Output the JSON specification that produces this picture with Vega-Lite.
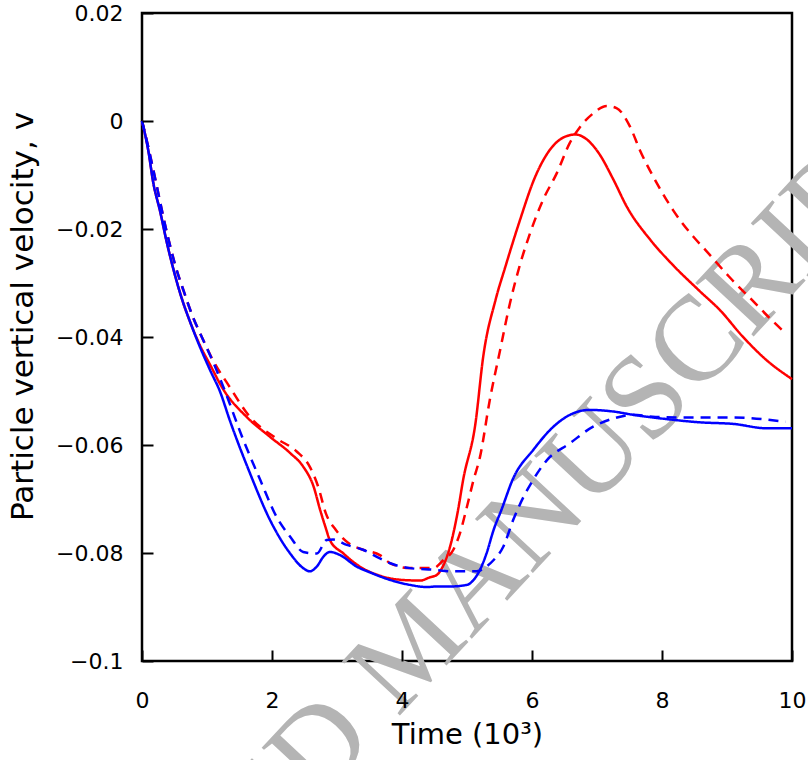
{
  "$schema": "https://vega.github.io/schema/vega-lite/v6.json",
  "autosize": {"type": "none"},
  "padding": {"left": 142, "top": 13, "right": 16, "bottom": 99},
  "width": 650,
  "height": 648,
  "background": "white",
  "config": {
    "view": {"stroke": "black", "strokeWidth": 2.5},
    "font": "DejaVu Sans",
    "axis": {
      "grid": false,
      "labelFlush": false,
      "labelOverlap": false,
      "labelColor": "black",
      "labelFont": "DejaVu Sans",
      "labelFontSize": 22,
      "titleFont": "DejaVu Sans",
      "titleFontWeight": "normal",
      "titleColor": "black"
    }
  },
  "datasets": {
    "curves": [
      {"series": "red solid", "t": 0, "v": 0},
      {"series": "red solid", "t": 0.1, "v": -0.0057},
      {"series": "red solid", "t": 0.17, "v": -0.0112},
      {"series": "red solid", "t": 0.28, "v": -0.0168},
      {"series": "red solid", "t": 0.38, "v": -0.0224},
      {"series": "red solid", "t": 0.48, "v": -0.0273},
      {"series": "red solid", "t": 0.61, "v": -0.0328},
      {"series": "red solid", "t": 0.74, "v": -0.0372},
      {"series": "red solid", "t": 0.89, "v": -0.0415},
      {"series": "red solid", "t": 1.05, "v": -0.0452},
      {"series": "red solid", "t": 1.25, "v": -0.0497},
      {"series": "red solid", "t": 1.61, "v": -0.0548},
      {"series": "red solid", "t": 1.97, "v": -0.0585},
      {"series": "red solid", "t": 2.28, "v": -0.0615},
      {"series": "red solid", "t": 2.48, "v": -0.064},
      {"series": "red solid", "t": 2.64, "v": -0.0677},
      {"series": "red solid", "t": 2.74, "v": -0.072},
      {"series": "red solid", "t": 2.82, "v": -0.0751},
      {"series": "red solid", "t": 2.89, "v": -0.0776},
      {"series": "red solid", "t": 3.1, "v": -0.0801},
      {"series": "red solid", "t": 3.35, "v": -0.0825},
      {"series": "red solid", "t": 3.66, "v": -0.0842},
      {"series": "red solid", "t": 4.02, "v": -0.085},
      {"series": "red solid", "t": 4.28, "v": -0.0851},
      {"series": "red solid", "t": 4.43, "v": -0.0845},
      {"series": "red solid", "t": 4.53, "v": -0.0841},
      {"series": "red solid", "t": 4.64, "v": -0.0822},
      {"series": "red solid", "t": 4.74, "v": -0.0788},
      {"series": "red solid", "t": 4.86, "v": -0.0722},
      {"series": "red solid", "t": 4.94, "v": -0.0665},
      {"series": "red solid", "t": 5.13, "v": -0.056},
      {"series": "red solid", "t": 5.25, "v": -0.0436},
      {"series": "red solid", "t": 5.44, "v": -0.0331},
      {"series": "red solid", "t": 5.59, "v": -0.027},
      {"series": "red solid", "t": 5.8, "v": -0.0189},
      {"series": "red solid", "t": 6.05, "v": -0.0103},
      {"series": "red solid", "t": 6.31, "v": -0.0048},
      {"series": "red solid", "t": 6.51, "v": -0.0029},
      {"series": "red solid", "t": 6.67, "v": -0.0025},
      {"series": "red solid", "t": 6.82, "v": -0.0032},
      {"series": "red solid", "t": 7.03, "v": -0.006},
      {"series": "red solid", "t": 7.25, "v": -0.0108},
      {"series": "red solid", "t": 7.46, "v": -0.0159},
      {"series": "red solid", "t": 7.82, "v": -0.022},
      {"series": "red solid", "t": 8.17, "v": -0.0267},
      {"series": "red solid", "t": 8.58, "v": -0.0315},
      {"series": "red solid", "t": 8.89, "v": -0.035},
      {"series": "red solid", "t": 9.24, "v": -0.0399},
      {"series": "red solid", "t": 9.61, "v": -0.0443},
      {"series": "red solid", "t": 10, "v": -0.0478},

      {"series": "red dashed", "t": 0, "v": 0},
      {"series": "red dashed", "t": 0.1, "v": -0.005},
      {"series": "red dashed", "t": 0.2, "v": -0.0105},
      {"series": "red dashed", "t": 0.37, "v": -0.02},
      {"series": "red dashed", "t": 0.5, "v": -0.0262},
      {"series": "red dashed", "t": 0.65, "v": -0.0318},
      {"series": "red dashed", "t": 0.78, "v": -0.0362},
      {"series": "red dashed", "t": 0.92, "v": -0.04},
      {"series": "red dashed", "t": 1.1, "v": -0.0445},
      {"series": "red dashed", "t": 1.33, "v": -0.0489},
      {"series": "red dashed", "t": 1.66, "v": -0.0548},
      {"series": "red dashed", "t": 2.07, "v": -0.0588},
      {"series": "red dashed", "t": 2.38, "v": -0.0612},
      {"series": "red dashed", "t": 2.58, "v": -0.064},
      {"series": "red dashed", "t": 2.71, "v": -0.0677},
      {"series": "red dashed", "t": 2.83, "v": -0.0727},
      {"series": "red dashed", "t": 2.98, "v": -0.0757},
      {"series": "red dashed", "t": 3.18, "v": -0.0782},
      {"series": "red dashed", "t": 3.4, "v": -0.0794},
      {"series": "red dashed", "t": 3.66, "v": -0.0804},
      {"series": "red dashed", "t": 3.82, "v": -0.0819},
      {"series": "red dashed", "t": 4.12, "v": -0.0828},
      {"series": "red dashed", "t": 4.48, "v": -0.0828},
      {"series": "red dashed", "t": 4.64, "v": -0.0813},
      {"series": "red dashed", "t": 4.79, "v": -0.0794},
      {"series": "red dashed", "t": 4.89, "v": -0.0764},
      {"series": "red dashed", "t": 5.0, "v": -0.0714},
      {"series": "red dashed", "t": 5.1, "v": -0.0665},
      {"series": "red dashed", "t": 5.2, "v": -0.0622},
      {"series": "red dashed", "t": 5.35, "v": -0.0517},
      {"series": "red dashed", "t": 5.51, "v": -0.0424},
      {"series": "red dashed", "t": 5.66, "v": -0.0338},
      {"series": "red dashed", "t": 5.82, "v": -0.0264},
      {"series": "red dashed", "t": 5.97, "v": -0.0208},
      {"series": "red dashed", "t": 6.17, "v": -0.0146},
      {"series": "red dashed", "t": 6.38, "v": -0.0097},
      {"series": "red dashed", "t": 6.58, "v": -0.0041},
      {"series": "red dashed", "t": 6.74, "v": -0.0011},
      {"series": "red dashed", "t": 6.94, "v": 0.0014},
      {"series": "red dashed", "t": 7.15, "v": 0.0028},
      {"series": "red dashed", "t": 7.3, "v": 0.0024},
      {"series": "red dashed", "t": 7.51, "v": -0.0011},
      {"series": "red dashed", "t": 7.66, "v": -0.0054},
      {"series": "red dashed", "t": 7.92, "v": -0.0115},
      {"series": "red dashed", "t": 8.17, "v": -0.0165},
      {"series": "red dashed", "t": 8.48, "v": -0.0214},
      {"series": "red dashed", "t": 8.67, "v": -0.0239},
      {"series": "red dashed", "t": 9.03, "v": -0.0288},
      {"series": "red dashed", "t": 9.38, "v": -0.0331},
      {"series": "red dashed", "t": 9.69, "v": -0.0369},
      {"series": "red dashed", "t": 9.9, "v": -0.0393},

      {"series": "blue solid", "t": 0, "v": 0},
      {"series": "blue solid", "t": 0.1, "v": -0.0057},
      {"series": "blue solid", "t": 0.17, "v": -0.0112},
      {"series": "blue solid", "t": 0.28, "v": -0.0168},
      {"series": "blue solid", "t": 0.38, "v": -0.0224},
      {"series": "blue solid", "t": 0.48, "v": -0.0273},
      {"series": "blue solid", "t": 0.61, "v": -0.0328},
      {"series": "blue solid", "t": 0.74, "v": -0.0372},
      {"series": "blue solid", "t": 0.89, "v": -0.0418},
      {"series": "blue solid", "t": 1.05, "v": -0.0462},
      {"series": "blue solid", "t": 1.2, "v": -0.0501},
      {"series": "blue solid", "t": 1.35, "v": -0.0554},
      {"series": "blue solid", "t": 1.66, "v": -0.0652},
      {"series": "blue solid", "t": 1.97, "v": -0.0739},
      {"series": "blue solid", "t": 2.28, "v": -0.0801},
      {"series": "blue solid", "t": 2.48, "v": -0.0828},
      {"series": "blue solid", "t": 2.58, "v": -0.0834},
      {"series": "blue solid", "t": 2.69, "v": -0.0825},
      {"series": "blue solid", "t": 2.79, "v": -0.0807},
      {"series": "blue solid", "t": 2.89, "v": -0.0798},
      {"series": "blue solid", "t": 3.05, "v": -0.0804},
      {"series": "blue solid", "t": 3.3, "v": -0.0825},
      {"series": "blue solid", "t": 3.51, "v": -0.0836},
      {"series": "blue solid", "t": 3.82, "v": -0.085},
      {"series": "blue solid", "t": 4.12, "v": -0.0859},
      {"series": "blue solid", "t": 4.38, "v": -0.0863},
      {"series": "blue solid", "t": 4.53, "v": -0.0862},
      {"series": "blue solid", "t": 4.74, "v": -0.0862},
      {"series": "blue solid", "t": 5.0, "v": -0.0859},
      {"series": "blue solid", "t": 5.1, "v": -0.085},
      {"series": "blue solid", "t": 5.2, "v": -0.0831},
      {"series": "blue solid", "t": 5.3, "v": -0.0801},
      {"series": "blue solid", "t": 5.41, "v": -0.0757},
      {"series": "blue solid", "t": 5.53, "v": -0.072},
      {"series": "blue solid", "t": 5.71, "v": -0.0662},
      {"series": "blue solid", "t": 6.02, "v": -0.0609},
      {"series": "blue solid", "t": 6.33, "v": -0.0566},
      {"series": "blue solid", "t": 6.64, "v": -0.0541},
      {"series": "blue solid", "t": 6.89, "v": -0.0535},
      {"series": "blue solid", "t": 7.25, "v": -0.0538},
      {"series": "blue solid", "t": 7.55, "v": -0.0544},
      {"series": "blue solid", "t": 8.07, "v": -0.0552},
      {"series": "blue solid", "t": 8.58, "v": -0.0558},
      {"series": "blue solid", "t": 9.1, "v": -0.0561},
      {"series": "blue solid", "t": 9.61, "v": -0.0569},
      {"series": "blue solid", "t": 10, "v": -0.0569},

      {"series": "blue dashed", "t": 0, "v": 0},
      {"series": "blue dashed", "t": 0.1, "v": -0.005},
      {"series": "blue dashed", "t": 0.2, "v": -0.0105},
      {"series": "blue dashed", "t": 0.37, "v": -0.02},
      {"series": "blue dashed", "t": 0.5, "v": -0.0262},
      {"series": "blue dashed", "t": 0.65, "v": -0.0318},
      {"series": "blue dashed", "t": 0.78, "v": -0.0362},
      {"series": "blue dashed", "t": 0.92, "v": -0.04},
      {"series": "blue dashed", "t": 1.1, "v": -0.0448},
      {"series": "blue dashed", "t": 1.25, "v": -0.0492},
      {"series": "blue dashed", "t": 1.56, "v": -0.0591},
      {"series": "blue dashed", "t": 1.82, "v": -0.0665},
      {"series": "blue dashed", "t": 2.07, "v": -0.0733},
      {"series": "blue dashed", "t": 2.28, "v": -0.077},
      {"series": "blue dashed", "t": 2.48, "v": -0.0798},
      {"series": "blue dashed", "t": 2.69, "v": -0.0801},
      {"series": "blue dashed", "t": 2.84, "v": -0.0776},
      {"series": "blue dashed", "t": 2.94, "v": -0.0775},
      {"series": "blue dashed", "t": 3.15, "v": -0.0785},
      {"series": "blue dashed", "t": 3.4, "v": -0.0794},
      {"series": "blue dashed", "t": 3.66, "v": -0.081},
      {"series": "blue dashed", "t": 3.82, "v": -0.0819},
      {"series": "blue dashed", "t": 4.12, "v": -0.0828},
      {"series": "blue dashed", "t": 4.48, "v": -0.0831},
      {"series": "blue dashed", "t": 4.79, "v": -0.0834},
      {"series": "blue dashed", "t": 5.15, "v": -0.0834},
      {"series": "blue dashed", "t": 5.3, "v": -0.0825},
      {"series": "blue dashed", "t": 5.41, "v": -0.0813},
      {"series": "blue dashed", "t": 5.56, "v": -0.0788},
      {"series": "blue dashed", "t": 5.71, "v": -0.0739},
      {"series": "blue dashed", "t": 5.87, "v": -0.0696},
      {"series": "blue dashed", "t": 6.0, "v": -0.0668},
      {"series": "blue dashed", "t": 6.23, "v": -0.0628},
      {"series": "blue dashed", "t": 6.58, "v": -0.0597},
      {"series": "blue dashed", "t": 6.94, "v": -0.0566},
      {"series": "blue dashed", "t": 7.25, "v": -0.0551},
      {"series": "blue dashed", "t": 7.55, "v": -0.0544},
      {"series": "blue dashed", "t": 7.9, "v": -0.0548},
      {"series": "blue dashed", "t": 8.33, "v": -0.0549},
      {"series": "blue dashed", "t": 9.1, "v": -0.0549},
      {"series": "blue dashed", "t": 9.9, "v": -0.0557}
    ],
    "watermark": [
      {"text": "ACCEPTED MANUSCRIPT", "t": 4.18, "v": -0.0976}
    ]
  },
  "layer": [
    {
      "data": {"name": "watermark"},
      "mark": {"type": "text", "font": "Liberation Serif", "fontSize": 121, "angle": -47, "color": "#b4b4b4", "align": "center", "baseline": "middle"},
      "encoding": {
        "x": {
          "field": "t", "type": "quantitative",
          "scale": {"domain": [0, 10], "nice": false, "zero": false},
          "axis": {"values": [0, 2, 4, 6, 8, 10], "format": "d", "domain": false, "ticks": true, "tickSize": 11, "tickWidth": 2, "tickColor": "#000000", "offset": -11, "zindex": 2, "labelPadding": 29, "title": "Time (10³)", "titleFontSize": 29, "titlePadding": 9}
        },
        "y": {
          "field": "v", "type": "quantitative",
          "scale": {"domain": [-0.1, 0.02], "nice": false, "zero": false},
          "axis": {"values": [-0.1, -0.08, -0.06, -0.04, -0.02, 0, 0.02], "format": "~g", "domain": false, "ticks": true, "tickSize": 11, "tickWidth": 2, "tickColor": "#000000", "offset": -11, "zindex": 2, "labelPadding": 19, "title": "Particle vertical velocity, v", "titleFontSize": 31, "titlePadding": 16, "titleY": 303}
        },
        "text": {"field": "text"}
      }
    },
    {
      "data": {"name": "curves"},
      "mark": {"type": "line", "strokeWidth": 2.5, "interpolate": "monotone"},
      "encoding": {
        "x": {"field": "t", "type": "quantitative"},
        "y": {"field": "v", "type": "quantitative"},
        "color": {
          "field": "series", "type": "nominal",
          "scale": {"domain": ["red solid", "red dashed", "blue solid", "blue dashed"], "range": ["#ff0000", "#ff0000", "#0000ff", "#0000ff"]},
          "legend": null
        },
        "strokeDash": {
          "field": "series", "type": "nominal",
          "scale": {"domain": ["red solid", "red dashed", "blue solid", "blue dashed"], "range": [[1, 0], [10, 7], [1, 0], [10, 7]]},
          "legend": null
        },
        "detail": {"field": "series"}
      }
    }
  ]
}
